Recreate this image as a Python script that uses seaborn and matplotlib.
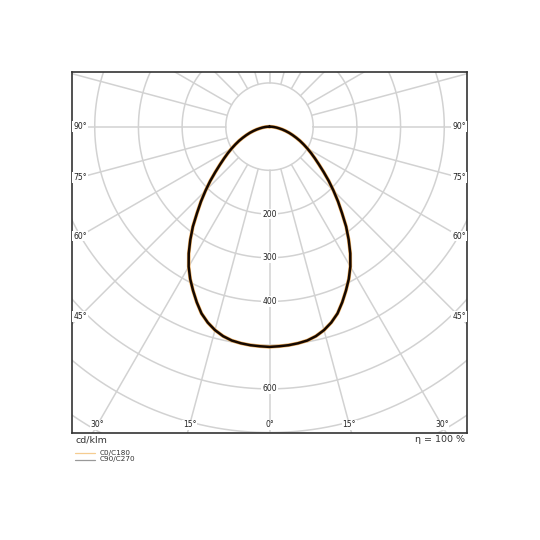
import numpy as np
import pandas as pd
import matplotlib
matplotlib.use("Agg")
import matplotlib.pyplot as plt
import seaborn as sns
from matplotlib.lines import Line2D

# ---- data ----
gamma_deg = [0, 2.5, 5, 7.5, 10, 12.5, 15, 17.5, 20, 22.5, 25, 27.5, 30, 32.5, 35, 37.5,
             40, 42.5, 45, 47.5, 50, 52.5, 55, 57.5, 60, 62.5, 65, 67.5, 70, 72.5, 75,
             77.5, 80, 82.5, 85, 87.5, 90]
intensity_c0 = [504, 503, 502, 500, 497, 491, 482, 470, 455, 435, 414, 393, 370, 344, 316, 288,
                258, 232, 207, 184, 162, 143, 127, 113, 100, 88, 77, 66, 56, 47, 38,
                30, 22, 16, 10, 5, 0]
intensity_c90 = [504, 503, 502, 500, 497, 491, 482, 470, 455, 435, 414, 393, 370, 344, 316, 288,
                 258, 232, 207, 184, 162, 143, 127, 113, 100, 88, 77, 66, 56, 47, 38,
                 30, 22, 16, 10, 5, 0]
series_names = ["C0/C180", "C90/C270"]
grid_radii = [100, 200, 300, 400, 500, 600, 700, 800, 900]
radial_angles = list(range(0, 360, 15))
intensity_labels = [200, 300, 400, 600]
bottom_angle_labels = [-30, -15, 0, 15, 30]
side_angle_labels = [45, 60, 75, 90]
unit_label = "cd/klm"
eff_label = "η = 100 %"

# ---- style ----
sns.set_theme(style="white")
plt.rcParams['font.family'] = ['DejaVu Sans']

W = 540
fig = plt.figure(figsize=(5.4, 5.4), dpi=100)
ax = fig.add_axes([72 / W, (W - 433) / W, 395 / W, 361 / W])
XL, YB, YT = 452, -701, 125
ax.set_xlim(-XL, XL)
ax.set_ylim(YB, YT)
ax.set_xticks([])
ax.set_yticks([])
for s in ax.spines.values():
    s.set_color("#333333")
    s.set_linewidth(1.2)

grid_col = "#d2d2d2"
# grid circles
t = np.linspace(0, 2 * np.pi, 721)
for r in grid_radii:
    ax.plot(r * np.cos(t), r * np.sin(t), color=grid_col, lw=1.1, zorder=1)
# radial lines
for a in radial_angles:
    ar = np.deg2rad(a)
    rr = np.array([grid_radii[0], 1200])
    ax.plot(rr * np.sin(ar), -rr * np.cos(ar), color=grid_col, lw=1.1, zorder=1)

# curves
def curve(vals, name):
    g = np.array(gamma_deg, float)
    v = np.array(vals, float)
    th = np.deg2rad(np.concatenate([-g[::-1], g[1:]]))
    rv = np.concatenate([v[::-1], v[1:]])
    return pd.DataFrame({"x": rv * np.sin(th), "y": -rv * np.cos(th), "series": name})

df0 = curve(intensity_c0, series_names[0])
df1 = curve(intensity_c90, series_names[1])
sns.lineplot(data=df0, x="x", y="y", sort=False, estimator=None, color="#f0b060", lw=2.6, ax=ax, zorder=3)
sns.lineplot(data=df1, x="x", y="y", sort=False, estimator=None, color="#150800", lw=1.8, ax=ax, zorder=4)
ax.set_xlabel("")
ax.set_ylabel("")

lab_kw = dict(fontsize=5.5, color="#222222", ha="center", va="center", zorder=5,
              bbox=dict(fc="white", ec="none", pad=0.6))
for v in intensity_labels:
    ax.text(0, -v, str(v), **lab_kw)

inset = 8 / (395 / (2 * XL))
yb = -YB - inset
for a in bottom_angle_labels:
    ax.text(yb * np.tan(np.deg2rad(a)), -yb, f"{abs(a)}°", clip_on=True, **lab_kw)
xs = XL - inset
for a in side_angle_labels:
    y = -xs / np.tan(np.deg2rad(a)) if a != 90 else 0.0
    for sgn in (-1, 1):
        ax.text(sgn * xs, y, f"{a}°", clip_on=True, **lab_kw)

# texts below
fig.text(76 / W, 1 - 440 / W, unit_label, fontsize=6.8, color="#333333", ha="left", va="center")
fig.text(465 / W, 1 - 440 / W, eff_label, fontsize=6.8, color="#333333", ha="right", va="center")

leg_cols = ["#f5cc90", "#999999"]
leg_y = [452.5, 459.5]
for name, col, yy in zip(series_names, leg_cols, leg_y):
    fig.lines.append(Line2D([75 / W, 95 / W], [1 - yy / W] * 2, color=col, lw=0.9,
                            transform=fig.transFigure))
    fig.text(100 / W, 1 - yy / W, name, fontsize=5.2, color="#333333", ha="left", va="center")

fig.savefig("out.png", dpi=100, facecolor="white")
